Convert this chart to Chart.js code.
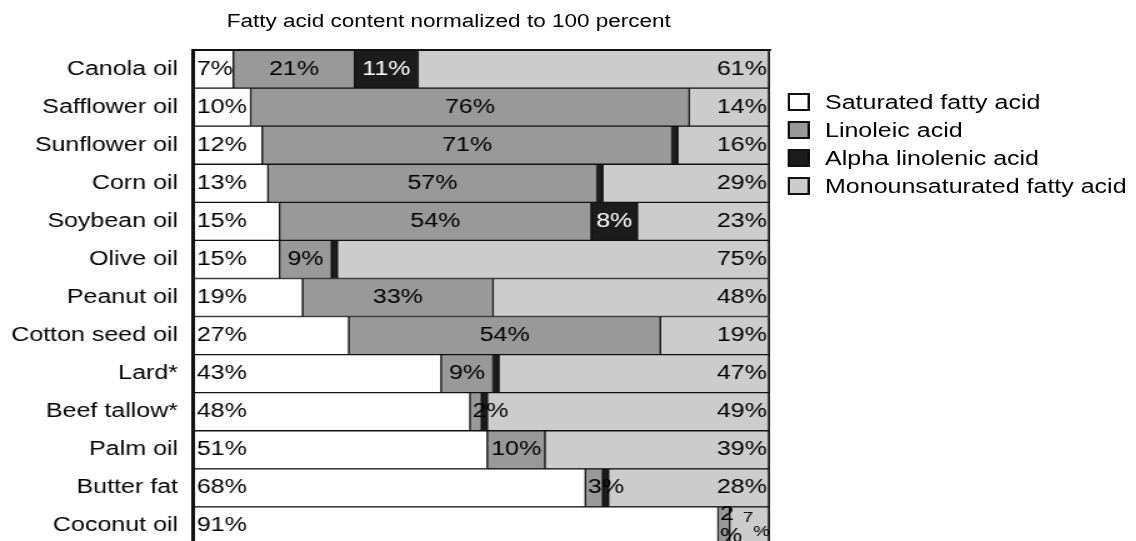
<!DOCTYPE html>
<html>
<head>
<meta charset="utf-8">
<title>Fatty acid content</title>
<script src="https://cdn.jsdelivr.net/npm/chart.js@4/dist/chart.umd.min.js"></script>
<style>
  html, body { margin: 0; padding: 0; background: #fff; }
  body { width: 1136px; height: 541px; overflow: hidden; }
  /* the source picture is stretched sideways, so draw narrow and widen */
  #stage {
    position: relative; width: 909px; height: 569px;
    transform: scaleX(1.25); transform-origin: 0 0;
    font-family: 'Liberation Sans', Arial, sans-serif; color: #000;
  }
  #chart { position: absolute; left: 0; top: 0; }
  #title {
    position: absolute; left: 0; top: 12px; width: 718px;
    text-align: center; font-size: 18px; line-height: 18px; white-space: nowrap;
  }
  #legend { position: absolute; left: 630px; top: 92px; }
  .item { display: flex; align-items: center; height: 20px; margin-bottom: 8px;
          font-size: 20px; line-height: 20px; white-space: nowrap; }
  .swatch { width: 14px; height: 14.5px; border: 2px solid #111; margin-right: 12px; }
</style>
</head>
<body>
<div id="stage">
  <canvas id="chart" width="909" height="569"></canvas>
  <div id="title">Fatty acid content normalized to 100 percent</div>
  <div id="legend"></div>
</div>
<script>
const FONT = "'Liberation Sans', Arial, sans-serif";

const categories = ['Canola oil', 'Safflower oil', 'Sunflower oil', 'Corn oil', 'Soybean oil',
  'Olive oil', 'Peanut oil', 'Cotton seed oil', 'Lard*', 'Beef tallow*', 'Palm oil',
  'Butter fat', 'Coconut oil'];
const saturated       = [7, 10, 12, 13, 15, 15, 19, 27, 43, 48, 51, 68, 91];
const linoleic        = [21, 76, 71, 57, 54, 9, 33, 54, 9, 2, 10, 3, 2];
const alphaLinolenic  = [11, 0, 1, 1, 8, 1, 0, 0, 1, 1, 0, 1, 0];
const monounsaturated = [61, 14, 16, 29, 23, 75, 48, 19, 47, 49, 39, 28, 7];
const seriesNames = ['Saturated fatty acid', 'Linoleic acid', 'Alpha linolenic acid', 'Monounsaturated fatty acid'];
const seriesColors = ['#ffffff', '#999999', '#1c1c1c', '#cccccc'];
// rows where a label too wide for its cell gets broken onto two lines
const stackedRows = ['Coconut oil'];

// percent labels inside the bars
const valueLabels = {
  id: 'valueLabels',
  afterDatasetsDraw(chart) {
    const ctx = chart.ctx;
    ctx.save();
    ctx.textBaseline = 'middle';
    chart.data.datasets.forEach((ds, i) => {
      const meta = chart.getDatasetMeta(i);
      meta.data.forEach((bar, j) => {
        const v = ds.data[j];
        if (v < 2) return;
        const left = Math.min(bar.base, bar.x), right = Math.max(bar.base, bar.x);
        const w = right - left, cy = bar.y;
        const txt = v + '%';
        ctx.fillStyle = i === 2 ? '#fff' : '#000';
        ctx.font = '20px ' + FONT;
        const tw = ctx.measureText(txt).width;

        if (stackedRows.includes(categories[j]) && tw + 6 > w) {
          ctx.textAlign = 'left';
          const num = String(v);
          if (w > 20) {
            ctx.font = '15px ' + FONT;
            const nw = ctx.measureText(num).width;
            ctx.fillText(num, left + 10.5, cy - 8.5);
            ctx.fillText('%', left + 10.5 + nw, cy + 6);
          } else {
            ctx.fillText(num, left + 1.5, cy - 11);
            ctx.fillText('%', left + 1.5, cy + 11);
          }
          return;
        }

        if (i === 0) {
          ctx.textAlign = 'left';
          ctx.fillText(txt, left + 3, cy);
        } else if (i === 3) {
          ctx.textAlign = 'right';
          ctx.fillText(txt, right - 2.5, cy);
        } else if (tw + 4 <= w) {
          ctx.textAlign = 'center';
          ctx.fillText(txt, (left + right) / 2, cy);
        } else {
          ctx.textAlign = 'left';
          ctx.fillText(txt, left + 2, cy);
        }
      });
    });
    ctx.restore();
  }
};

const seriesData = [saturated, linoleic, alphaLinolenic, monounsaturated];
const datasets = seriesData.map((data, i) => ({
  label: seriesNames[i],
  data,
  backgroundColor: seriesColors[i],
  borderColor: '#111',
  borderWidth: { top: 1, bottom: 1, left: 1, right: i === 3 ? 2 : 1 },
  borderSkipped: false,
  barPercentage: 1,
  categoryPercentage: 1
}));

Chart.defaults.font.family = FONT;
Chart.defaults.color = '#000';

new Chart(document.getElementById('chart').getContext('2d'), {
  type: 'bar',
  data: { labels: categories, datasets },
  options: {
    indexAxis: 'y',
    responsive: false,
    animation: false,
    layout: { autoPadding: false, padding: { top: 50, right: 293, bottom: 1, left: 0 } },
    plugins: { legend: { display: false }, title: { display: false }, tooltip: { enabled: false } },
    scales: {
      x: {
        stacked: true, min: 0, max: 100, position: 'top',
        ticks: { display: false },
        grid: { display: false, drawTicks: false },
        border: { display: true, color: '#111', width: 2, z: 1 }
      },
      y: {
        stacked: true,
        ticks: { color: '#000', font: { size: 20 }, padding: 12, autoSkip: false },
        grid: { display: false, drawTicks: false },
        border: { display: true, color: '#111', width: 3, z: 1 },
        afterFit(scale) { scale.width = 154.4; }
      }
    }
  },
  plugins: [valueLabels]
});

// legend built from the same series names/colours
const legendEl = document.getElementById('legend');
seriesNames.forEach((name, i) => {
  const item = document.createElement('div');
  item.className = 'item';
  const sw = document.createElement('span');
  sw.className = 'swatch';
  sw.style.background = seriesColors[i];
  item.appendChild(sw);
  item.appendChild(document.createTextNode(name));
  legendEl.appendChild(item);
});
</script>
</body>
</html>
